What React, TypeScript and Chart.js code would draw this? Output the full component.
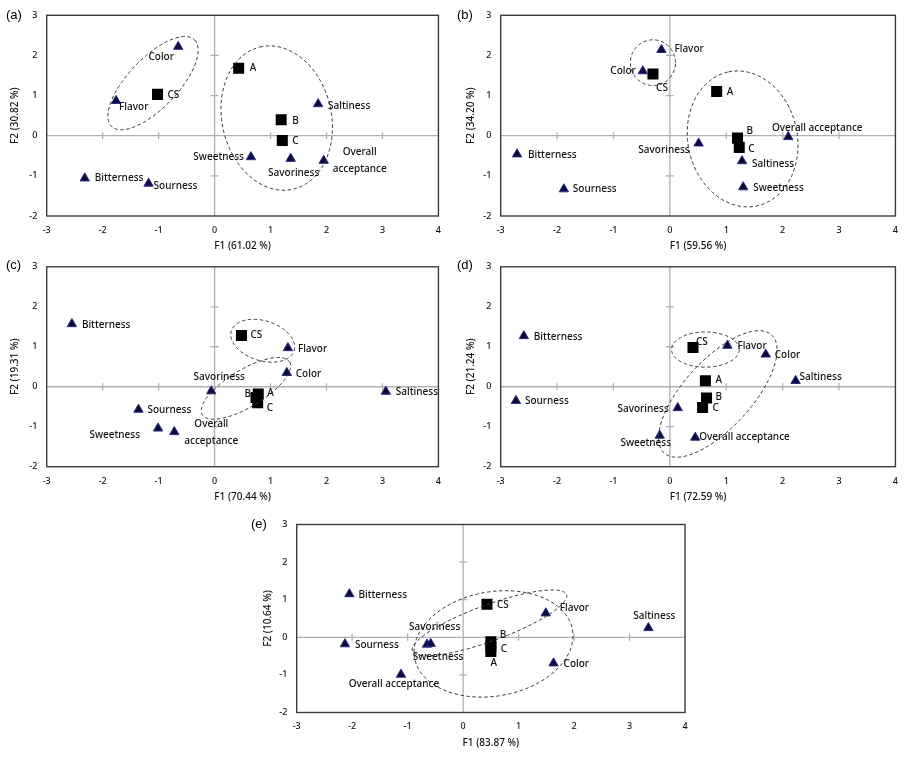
import React, { useEffect, useRef } from 'react';
import { Chart, registerables } from 'chart.js';

Chart.register(...registerables);

// ---------- categories ----------
const ATTRIBUTES = ['Bitterness', 'Sourness', 'Sweetness', 'Saltiness', 'Savoriness', 'Color', 'Flavor', 'Overall acceptance'];
const SAMPLES = ['CS', 'A', 'B', 'C'];

const X_TICKS = [-3, -2, -1, 0, 1, 2, 3, 4];
const Y_TICKS = [-2, -1, 0, 1, 2, 3];

// ---------- (a) ----------
const A_ATTR_F1 = [-2.32, -1.18, 0.65, 1.85, 1.36, -0.65, -1.76, 1.95];
const A_ATTR_F2 = [-1.06, -1.19, -0.53, 0.79, -0.57, 2.22, 0.87, -0.62];
const A_SAMP_F1 = [-1.02, 0.43, 1.19, 1.21];
const A_SAMP_F2 = [1.03, 1.68, 0.4, -0.12];
// ellipse groups: centre (F1,F2), half-axis vector u, half-axis vector v
const A_GROUPS = [
  [-1.1, 1.31, 0.74, 1.08, 0.32, -0.43],
  [1.11, 0.44, -0.3, 1.77, 0.95, 0.32],
];

// ---------- (b) ----------
const B_ATTR_F1 = [-2.71, -1.88, 1.3, 1.28, 0.51, -0.48, -0.15, 2.1];
const B_ATTR_F2 = [-0.46, -1.33, -1.28, -0.63, -0.19, 1.61, 2.14, -0.03];
const B_SAMP_F1 = [-0.3, 0.83, 1.2, 1.23];
const B_SAMP_F2 = [1.54, 1.1, -0.06, -0.29];
const B_GROUPS = [
  [-0.3, 1.82, 0.4, 0, 0, 0.57],
  [1.29, -0.08, -0.25, 1.67, 0.95, 0.28],
];

// ---------- (c) ----------
const C_ATTR_F1 = [-2.55, -1.36, -1.01, 3.06, -0.06, 1.29, 1.31, -0.72];
const C_ATTR_F2 = [1.57, -0.57, -1.04, -0.12, -0.11, 0.35, 0.97, -1.13];
const C_SAMP_F1 = [0.48, 0.78, 0.74, 0.77];
const C_SAMP_F2 = [1.28, -0.18, -0.27, -0.4];
const C_GROUPS = [
  [0.86, 1.15, 0.56, -0.25, 0.11, 0.475],
  [0.56, -0.04, 0.78, 0.66, 0.17, -0.4],
];

// ---------- (d) ----------
const D_ATTR_F1 = [-2.59, -2.73, -0.18, 2.23, 0.14, 1.7, 1.02, 0.45];
const D_ATTR_F2 = [1.27, -0.35, -1.22, 0.15, -0.53, 0.81, 1.03, -1.27];
const D_SAMP_F1 = [0.41, 0.63, 0.65, 0.58];
const D_SAMP_F2 = [0.98, 0.15, -0.28, -0.52];
const D_GROUPS = [
  [0.63, 0.93, 0.6, 0, 0, 0.44],
  [0.85, -0.18, 0.95, 1.48, 0.45, -0.56],
];

// ---------- (e) ----------
const E_ATTR_F1 = [-2.05, -2.13, -0.65, 3.34, -0.585, 1.63, 1.49, -1.12];
const E_ATTR_F2 = [1.15, -0.18, -0.19, 0.25, -0.17, -0.69, 0.64, -0.99];
const E_SAMP_F1 = [0.43, 0.5, 0.5, 0.5];
const E_SAMP_F2 = [0.88, -0.38, -0.12, -0.25];
const E_GROUPS = [
  [0.548, -0.176, 1.424, 0.371, 0.163, -1.366],
  [0.475, 0.384, 1.39, 0.75, 0.111, -0.451],
];

// ---------- label placement (pixel offsets, alignment, optional two-line gap) ----------
type LP = [number, number, CanvasTextAlign, number?];
const A_ATTR_LP: LP[] = [[10, 0, 'left'], [5, 3, 'left'], [-7, 0, 'right'], [10, 2, 'left'], [3, 15, 'center'], [-17, 11, 'center'], [3, 6, 'left'], [36, 0, 'center', 17]];
const A_SAMP_LP: LP[] = [[10, 1, 'left'], [11, 0, 'left'], [11, 1, 'left'], [10, 1, 'left']];
const B_ATTR_LP: LP[] = [[11, 1, 'left'], [9, 0, 'left'], [10, 1, 'left'], [10, 3, 'left'], [-9, 7, 'right'], [-7, 0, 'right'], [13, -1, 'left'], [29, -9, 'center']];
const B_SAMP_LP: LP[] = [[9, 14, 'center'], [10, 1, 'left'], [9, -7, 'left'], [9, 2, 'left']];
const C_ATTR_LP: LP[] = [[10, 1, 'left'], [9, 1, 'left'], [-18, 7, 'right'], [10, 1, 'left'], [8, -14, 'center'], [9, 1, 'left'], [10, 1, 'left'], [37, 1, 'center', 17]];
const C_SAMP_LP: LP[] = [[9, 0, 'left'], [9, -1, 'left'], [-5, -3, 'right'], [9, 5, 'left']];
const D_ATTR_LP: LP[] = [[10, 1, 'left'], [9, 0, 'left'], [-14, 8, 'center'], [4, -4, 'left'], [-9, 1, 'right'], [9, 1, 'left'], [10, 1, 'left'], [4, 0, 'left']];
const D_SAMP_LP: LP[] = [[3, -5, 'left'], [10, -1, 'left'], [9, -1, 'left'], [10, 1, 'left']];
const E_ATTR_LP: LP[] = [[9, 1, 'left'], [10, 1, 'left'], [11, 13, 'center'], [6, -12, 'center'], [4, -17, 'center'], [10, 1, 'left'], [14, -5, 'left'], [-7, 10, 'center']];
const E_SAMP_LP: LP[] = [[10, 1, 'left'], [3, 12, 'center'], [9, -7, 'left'], [10, 2, 'left']];

const FONT = '"Noto Sans", "DejaVu Sans", sans-serif';

interface PanelDef {
  letter: string;
  xTitle: string;
  yTitle: string;
  attrF1: number[]; attrF2: number[]; sampF1: number[]; sampF2: number[];
  groups: number[][];
  attrLP: LP[]; sampLP: LP[];
  canvas: [number, number, number, number]; // left, top, width, height (page px)
  area: [number, number, number, number]; // left, top, right, bottom (page px)
  yTitleX: number; xTitleY: number;
  letterPos: [number, number];
}

const PANELS: PanelDef[] = [
  {
    letter: '(a)', xTitle: 'F1 (61.02 %)', yTitle: 'F2 (30.82 %)',
    attrF1: A_ATTR_F1, attrF2: A_ATTR_F2, sampF1: A_SAMP_F1, sampF2: A_SAMP_F2, groups: A_GROUPS,
    attrLP: A_ATTR_LP, sampLP: A_SAMP_LP,
    canvas: [0, 0, 450, 252], area: [46.7, 15.3, 443.3, 216], yTitleX: 15, xTitleY: 246, letterPos: [6, 15],
  },
  {
    letter: '(b)', xTitle: 'F1 (59.56 %)', yTitle: 'F2 (34.20 %)',
    attrF1: B_ATTR_F1, attrF2: B_ATTR_F2, sampF1: B_SAMP_F1, sampF2: B_SAMP_F2, groups: B_GROUPS,
    attrLP: B_ATTR_LP, sampLP: B_SAMP_LP,
    canvas: [450, 0, 457, 252], area: [500.7, 15.3, 896.7, 216], yTitleX: 471, xTitleY: 246, letterPos: [457, 15],
  },
  {
    letter: '(c)', xTitle: 'F1 (70.44 %)', yTitle: 'F2 (19.31 %)',
    attrF1: C_ATTR_F1, attrF2: C_ATTR_F2, sampF1: C_SAMP_F1, sampF2: C_SAMP_F2, groups: C_GROUPS,
    attrLP: C_ATTR_LP, sampLP: C_SAMP_LP,
    canvas: [0, 252, 450, 252], area: [46.7, 265.8, 443.3, 466.7], yTitleX: 15, xTitleY: 497, letterPos: [6, 265],
  },
  {
    letter: '(d)', xTitle: 'F1 (72.59 %)', yTitle: 'F2 (21.24 %)',
    attrF1: D_ATTR_F1, attrF2: D_ATTR_F2, sampF1: D_SAMP_F1, sampF2: D_SAMP_F2, groups: D_GROUPS,
    attrLP: D_ATTR_LP, sampLP: D_SAMP_LP,
    canvas: [450, 252, 457, 252], area: [500.7, 265.8, 896.7, 466.7], yTitleX: 471, xTitleY: 497, letterPos: [457, 265],
  },
  {
    letter: '(e)', xTitle: 'F1 (83.87 %)', yTitle: 'F2 (10.64 %)',
    attrF1: E_ATTR_F1, attrF2: E_ATTR_F2, sampF1: E_SAMP_F1, sampF2: E_SAMP_F2, groups: E_GROUPS,
    attrLP: E_ATTR_LP, sampLP: E_SAMP_LP,
    canvas: [230, 505, 470, 252], area: [296.7, 524.5, 685, 712.5], yTitleX: 268, xTitleY: 743, letterPos: [251, 524],
  },
];

const decoPlugin = {
  id: 'pcaDeco',
  beforeDatasetsDraw(chart: any) {
    const { ctx, chartArea: a, scales } = chart;
    const xs = scales.x, ys = scales.y;
    const x0 = xs.getPixelForValue(0), y0 = ys.getPixelForValue(0);
    ctx.save();
    ctx.strokeStyle = '#b0b0b0';
    ctx.lineWidth = 1.3;
    ctx.beginPath();
    ctx.moveTo(a.left, y0); ctx.lineTo(a.right, y0);
    ctx.moveTo(x0, a.top); ctx.lineTo(x0, a.bottom);
    for (const v of X_TICKS) {
      if (v === 0 || v === xs.min || v === xs.max) continue;
      const p = xs.getPixelForValue(v);
      ctx.moveTo(p, y0 - 3.5); ctx.lineTo(p, y0 + 3.5);
    }
    for (const v of Y_TICKS) {
      if (v === 0 || v === ys.min || v === ys.max) continue;
      const p = ys.getPixelForValue(v);
      ctx.moveTo(x0 - 4, p); ctx.lineTo(x0 + 4, p);
    }
    ctx.stroke();
    ctx.strokeStyle = '#3c3c3c';
    ctx.lineWidth = 1.4;
    ctx.strokeRect(a.left, a.top, a.right - a.left, a.bottom - a.top);
    ctx.restore();
  },
  afterDatasetsDraw(chart: any, _args: any, opts: any) {
    const { ctx, chartArea: a, scales } = chart;
    const xs = scales.x, ys = scales.y;
    // group ellipses
    ctx.save();
    ctx.beginPath();
    ctx.rect(a.left, a.top, a.right - a.left, a.bottom - a.top);
    ctx.clip();
    ctx.strokeStyle = '#3a3a3a';
    ctx.lineWidth = 1;
    ctx.setLineDash([3.5, 2.5]);
    for (const g of opts.groups as number[][]) {
      const [cx, cy, ux, uy, vx, vy] = g;
      ctx.beginPath();
      const N = 120;
      for (let i = 0; i <= N; i++) {
        const t = (i / N) * Math.PI * 2;
        const px = xs.getPixelForValue(cx + ux * Math.cos(t) + vx * Math.sin(t));
        const py = ys.getPixelForValue(cy + uy * Math.cos(t) + vy * Math.sin(t));
        if (i === 0) ctx.moveTo(px, py); else ctx.lineTo(px, py);
      }
      ctx.closePath();
      ctx.stroke();
    }
    ctx.restore();
    // point labels
    ctx.save();
    ctx.font = `500 10px ${FONT}`;
    ctx.fillStyle = '#111';
    ctx.textBaseline = 'middle';
    const sets: [string[], LP[]][] = [[ATTRIBUTES, opts.attrLP], [SAMPLES, opts.sampLP]];
    sets.forEach(([names, lps], di) => {
      const meta = chart.getDatasetMeta(di);
      meta.data.forEach((el: any, j: number) => {
        const [dx, dy, align, gap] = lps[j];
        ctx.textAlign = align;
        if (gap) {
          const parts = names[j].split(' ');
          ctx.fillText(parts[0], el.x + dx, el.y + dy - gap / 2);
          ctx.fillText(parts.slice(1).join(' '), el.x + dx, el.y + dy + gap / 2);
        } else {
          ctx.fillText(names[j], el.x + dx, el.y + dy);
        }
      });
    });
    ctx.restore();
  },
  afterDraw(chart: any, _args: any, opts: any) {
    const { ctx } = chart;
    ctx.save();
    ctx.font = '13px "Liberation Sans", Arial, sans-serif';
    ctx.fillStyle = '#000';
    ctx.textBaseline = 'middle';
    ctx.textAlign = 'left';
    ctx.fillText(opts.letter, opts.letterX, opts.letterY);
    ctx.restore();
  },
};

function Panel({ def }: { def: PanelDef }) {
  const ref = useRef<HTMLCanvasElement | null>(null);
  useEffect(() => {
    if (!ref.current) return;
    const [L, T, W, H] = def.canvas;
    const [al, at, ar, ab] = def.area;
    const yW = al - L;
    const xH = T + H - ab;
    const lh = 12;
    const yTitlePad = def.yTitleX - L - lh / 2;
    const xTitlePad = T + H - def.xTitleY - lh / 2;
    const tickFont = { family: FONT, size: 9, weight: '500' };
    const chart = new Chart(ref.current, {
      type: 'scatter',
      data: {
        datasets: [
          {
            label: 'Attributes',
            data: def.attrF1.map((x, i) => ({ x, y: def.attrF2[i] })),
            pointStyle: 'triangle',
            pointRadius: 5.4,
            backgroundColor: '#0b0b38',
            borderColor: '#2c2c8c',
            borderWidth: 1,
          },
          {
            label: 'Samples',
            data: def.sampF1.map((x, i) => ({ x, y: def.sampF2[i] })),
            pointStyle: 'rect',
            pointRadius: 7.8,
            backgroundColor: '#000',
            borderColor: '#000',
            borderWidth: 0,
          },
        ],
      },
      options: {
        responsive: false,
        animation: false,
        events: [],
        layout: { padding: { left: 0, top: at - T, right: L + W - ar, bottom: 0 } },
        plugins: {
          legend: { display: false },
          tooltip: { enabled: false },
          pcaDeco: {
            groups: def.groups,
            attrLP: def.attrLP,
            sampLP: def.sampLP,
            letter: def.letter,
            letterX: def.letterPos[0] - L,
            letterY: def.letterPos[1] - T,
          },
        } as any,
        scales: {
          x: {
            type: 'linear',
            min: X_TICKS[0],
            max: X_TICKS[X_TICKS.length - 1],
            afterBuildTicks: (s: any) => { s.ticks = X_TICKS.map((v) => ({ value: v })); },
            ticks: { font: tickFont, color: '#111', padding: 9, callback: (v: any) => String(v), maxRotation: 0, autoSkip: false },
            grid: { display: false, drawTicks: false },
            border: { display: false },
            title: { display: true, text: def.xTitle, font: { family: FONT, size: 10, weight: '500' }, color: '#111', padding: { top: 0, bottom: xTitlePad } },
            afterFit: (s: any) => { s.height = xH; },
          },
          y: {
            type: 'linear',
            min: Y_TICKS[0],
            max: Y_TICKS[Y_TICKS.length - 1],
            afterBuildTicks: (s: any) => { s.ticks = Y_TICKS.map((v) => ({ value: v })); },
            ticks: { font: tickFont, color: '#111', padding: 9.4, callback: (v: any) => String(v), autoSkip: false },
            grid: { display: false, drawTicks: false },
            border: { display: false },
            title: { display: true, text: def.yTitle, font: { family: FONT, size: 10, weight: '500' }, color: '#111', padding: { top: yTitlePad, bottom: 0 } },
            afterFit: (s: any) => { s.width = yW; },
          },
        },
      } as any,
      plugins: [decoPlugin],
    });
    return () => chart.destroy();
  }, [def]);
  const [L, T, W, H] = def.canvas;
  return (
    <canvas
      ref={ref}
      width={W}
      height={H}
      style={{ position: 'absolute', left: L, top: T, width: W, height: H }}
    />
  );
}

export default function App() {
  return (
    <div style={{ position: 'absolute', left: 0, top: 0, width: 907, height: 757, background: '#fff', overflow: 'hidden' }}>
      {PANELS.map((p) => (
        <Panel key={p.letter} def={p} />
      ))}
    </div>
  );
}
